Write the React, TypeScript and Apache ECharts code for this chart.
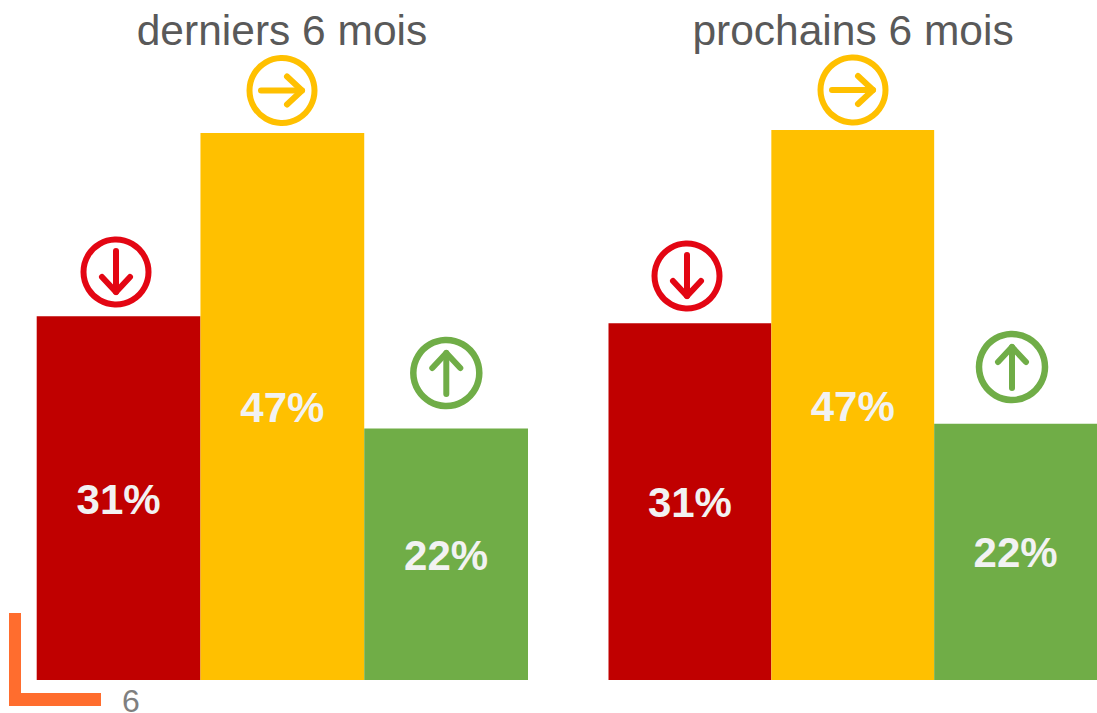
import React, { useEffect, useRef } from "react";
import * as echarts from "echarts";

const categories = ["baisse", "stable", "hausse"];
const panelTitles = ["derniers 6 mois", "prochains 6 mois"];
const pastValues = [31.1, 46.75, 21.5];
const nextValues = [30.5, 47.0, 21.9];
const barColors = ["#C00000", "#FFC000", "#70AD47"];
const pageNumber = "6";

const FONT = "'Liberation Sans', Arial, sans-serif";

type Dir = "down" | "right" | "up";

function icon(cx: number, cy: number, color: string, dir: Dir, r = 32.5, lw = 6) {
  const shapes: Record<Dir, { shaft: number[][]; head: number[][] }> = {
    right: { shaft: [[-21, 0], [20, 0]], head: [[5, -14], [20, 0], [5, 14]] },
    down: { shaft: [[0, -21], [0, 20]], head: [[-14, 5], [0, 20], [14, 5]] },
    up: { shaft: [[0, 21], [0, -20]], head: [[-14, -5], [0, -20], [14, -5]] },
  };
  const s = shapes[dir];
  const style = { stroke: color, lineWidth: 6, fill: "none", lineCap: "round", lineJoin: "round" };
  return {
    type: "group",
    x: cx,
    y: cy,
    silent: true,
    children: [
      { type: "circle", shape: { cx: 0, cy: 0, r }, style: { stroke: color, lineWidth: lw, fill: "none" } },
      { type: "polyline", shape: { points: s.shaft }, style },
      { type: "polyline", shape: { points: s.head }, style },
    ],
  };
}

function barSeries(values: number[], index: number) {
  return {
    type: "bar",
    xAxisIndex: index,
    yAxisIndex: index,
    barWidth: "100%",
    barCategoryGap: 0,
    data: values.map((v, i) => ({ value: v, itemStyle: { color: barColors[i] } })),
    label: {
      show: true,
      position: "inside",
      formatter: (p: { value: number }) => `${Math.round(p.value)}%`,
      fontFamily: FONT,
      fontWeight: "bold",
      fontSize: 42,
      color: "#F2F2F2",
      textBorderWidth: 0,
      offset: [0, 1],
    },
    silent: true,
  };
}

export default function App() {
  const ref = useRef<HTMLDivElement>(null);
  useEffect(() => {
    const chart = echarts.init(ref.current!, undefined, { renderer: "svg" });
    const axisOff = { show: false };
    const titleStyle = { fontFamily: FONT, fontSize: 42.5, fontWeight: "normal", color: "#595959" };
    chart.setOption({
      animation: false,
      backgroundColor: "#ffffff",
      title: [
        { text: panelTitles[0], left: 277, top: 4, textAlign: "center", textStyle: titleStyle },
        { text: panelTitles[1], left: 848, top: 4, textAlign: "center", textStyle: titleStyle },
      ],
      grid: [
        { left: 36.7, width: 491.3, top: 95, height: 585 },
        { left: 608.5, width: 490.5, top: 95, height: 585 },
      ],
      xAxis: [
        { type: "category", gridIndex: 0, data: categories, ...axisOff },
        { type: "category", gridIndex: 1, data: categories, ...axisOff },
      ],
      yAxis: [
        { type: "value", gridIndex: 0, min: 0, max: 50, ...axisOff },
        { type: "value", gridIndex: 1, min: 0, max: 50, ...axisOff },
      ],
      series: [barSeries(pastValues, 0), barSeries(nextValues, 1)],
      graphic: [
        icon(116, 272, "#E30613", "down"),
        icon(282, 90.5, "#FFC000", "right"),
        icon(446.3, 373, "#70AD47", "up", 33, 6.5),
        icon(687, 276, "#E30613", "down"),
        icon(853, 90, "#FFC000", "right"),
        icon(1012, 367, "#70AD47", "up", 33, 6.5),
        {
          type: "polygon",
          silent: true,
          shape: { points: [[9, 613], [21, 613], [21, 693], [101, 693], [101, 706], [9, 706]] },
          style: { fill: "#FF6D2E" },
        },
        {
          type: "text",
          silent: true,
          x: 122,
          y: 701,
          style: { text: pageNumber, fontFamily: FONT, fontSize: 32, lineHeight: 22, fill: "#7F7F7F", verticalAlign: "middle" },
        },
      ],
    });
    return () => chart.dispose();
  }, []);
  return <div ref={ref} style={{ position: "absolute", left: 0, top: 0, width: 1097, height: 713 }} />;
}
